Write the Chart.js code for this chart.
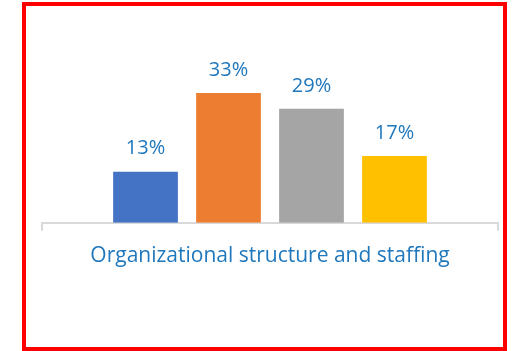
<!DOCTYPE html>
<html>
<head>
<meta charset="utf-8">
<script src="https://cdn.jsdelivr.net/npm/chart.js@4.4.1/dist/chart.umd.min.js"></script>
<style>
  html, body { margin: 0; padding: 0; background: #fff; }
  #wrap { position: relative; width: 514px; height: 351px; }
  #frame {
    position: absolute; left: 22px; top: 2px; width: 477px; height: 341px;
    border: 4px solid #ff0000; pointer-events: none;
  }
</style>
</head>
<body>
<div id="wrap">
  <canvas id="grafico" width="514" height="351"></canvas>
  <div id="frame"></div>
</div>
<script>
const categorie = ['Organizational structure and staffing']
const valori = [13, 33, 29, 17]
const colori = ['#4472C4', '#ED7D31', '#A5A5A5', '#FFC000']
const coloreTesto = '#1F77BC'

// etichette percentuali sopra ogni barra
const etichette = {
  id: 'etichette',
  afterDatasetsDraw(chart) {
    const ctx = chart.ctx
    ctx.save()
    ctx.fillStyle = coloreTesto
    ctx.font = '20px "Open Sans"'
    ctx.textAlign = 'center'
    ctx.textBaseline = 'bottom'
    chart.data.datasets.forEach((ds, i) => {
      chart.getDatasetMeta(i).data.forEach((bar, j) => {
        ctx.fillText(ds.data[j] + '%', bar.x, bar.y - 13)
      })
    })
    ctx.restore()
  }
}

const data = {
  labels: categorie,
  datasets: valori.map((v, i) => ({
    data: [v],
    backgroundColor: colori[i],
    categoryPercentage: 0.728,
    barPercentage: 0.78
  }))
}

new Chart(document.querySelector('#grafico'), {
  type: 'bar',
  data: data,
  options: {
    responsive: false,
    animation: false,
    layout: { padding: { left: 42, right: 16, top: 42, bottom: 69 } },
    plugins: { legend: { display: false }, tooltip: { enabled: false } },
    scales: {
      x: {
        border: { color: '#D9D9D9', width: 2 },
        grid: { drawOnChartArea: false, color: '#D9D9D9', lineWidth: 2, tickLength: 8 },
        ticks: { color: coloreTesto, font: { family: 'Open Sans', size: 21 }, padding: 13 }
      },
      y: { display: false, min: 0, max: 46 }
    }
  },
  plugins: [etichette]
})
</script>
</body>
</html>
